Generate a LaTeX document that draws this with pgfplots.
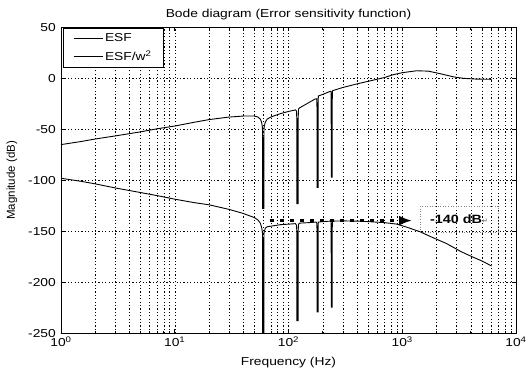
\documentclass[border=0pt]{standalone}
\usepackage{fontspec}
\setmainfont{Liberation Sans}[FakeStretch=1.2]
\newfontfamily\ylfont{Liberation Sans}
\newfontfamily\symfont{DejaVu Sans}
\usepackage{pgfplots}
\pgfplotsset{compat=1.18}
\usetikzlibrary{arrows.meta}
\begin{document}
\begin{tikzpicture}
\begin{axis}[
  at={(0,0)}, anchor=south west,
  scale only axis, width=455pt, height=306pt,
  xmode=log, xmin=1, xmax=10000, ymin=-250, ymax=50,
  ytick={-250,-200,-150,-100,-50,0,50},
  yticklabels={-250,-200,-150,-100,-50,0,50},
  xtick={1,10,100,1000,10000},
  xticklabels={10\textsuperscript{0},10\textsuperscript{1},10\textsuperscript{2},10\textsuperscript{3},10\textsuperscript{4}},
  minor xtick={2,3,4,5,6,7,8,9,20,30,40,50,60,70,80,90,200,300,400,500,600,700,800,900,2000,3000,4000,5000,6000,7000,8000,9000},
  xmajorgrids, xminorgrids, ymajorgrids,
  major grid style={black, line width=0.4pt, dash pattern=on 1.2pt off 2.2pt},
  minor grid style={black, line width=0.4pt, dash pattern=on 1.2pt off 2.2pt},
  tick align=inside, major tick length=4pt, minor tick length=2.5pt,
  axis line style={line width=0.6pt},
  every tick/.style={black, line width=0.5pt},
  tick label style={font=\fontsize{11.5}{13}\selectfont},
  yticklabel style={inner sep=0pt, xshift=-5pt},
  xticklabel style={inner sep=0pt, yshift=-3pt},
  xlabel={Frequency (Hz)},
  ylabel={{\ylfont Magnitude (dB)}},
  title={Bode diagram (Error sensitivity function)},
  every axis x label/.style={at={(axis description cs:0.5,0)}, yshift=-29.5pt, anchor=center, font=\fontsize{11.5}{13}\selectfont},
  every axis y label/.style={at={(axis description cs:0,0.5)}, xshift=-49pt, rotate=90, anchor=center, font=\fontsize{11.5}{13}\selectfont},
  every axis title/.style={at={(axis description cs:0.5,1)}, yshift=12.8pt, anchor=center, font=\fontsize{11.5}{13}\selectfont},
  legend cell align=left,
  legend image code/.code={\draw[#1] (0pt,0pt) -- (29pt,0pt);},
  legend style={at={(axis description cs:0.004,0.998)}, anchor=north west, draw=black, line width=0.6pt, fill=white,
    font=\fontsize{11.5}{13}\selectfont, inner xsep=10pt, inner ysep=3pt, row sep=4pt},
]
\addplot[black, line width=0.9pt] coordinates {
(1,-65) (1.5,-62) (2,-59.5) (3,-56.5) (5,-52.5) (7,-49.5) (10,-46.8) (15,-43) (20,-40.5) (30,-38) (40,-37) (50,-37) (54,-38) (56.5,-40) (58,-43) (59,-48) (59.2,-60) (59.3,-127.5) (60.7,-127.5) (60.8,-60) (61,-48) (62.5,-43) (65,-40) (70,-38) (76,-36.5) (85,-34.6) (100,-32.5) (115,-31) (117.5,-32) (118.4,-40) (118.6,-123) (121.4,-123) (121.6,-40) (122.5,-30) (125,-29) (150,-24) (170,-20.5) (177.5,-20) (177.9,-28) (178,-107) (182,-107) (182.1,-28) (183,-17.3) (200,-15.8) (230,-13) (236.5,-12.8) (237.3,-20) (237.5,-97) (242.5,-97) (242.7,-20) (243.5,-12.2) (300,-9) (400,-5.5) (500,-3) (700,0.8) (830,3.5) (1000,5.5) (1340,7.4) (1700,7) (2140,4.6) (2800,1.5) (3430,0) (4500,-0.8) (6100,-1)
};
\addplot[black, line width=0.9pt] coordinates {
(1,-98) (1.5,-101) (2,-103.5) (3,-107.5) (5,-112) (7,-115) (10,-118.5) (15,-122) (20,-124) (30,-128.5) (40,-132.5) (50,-136.5) (54,-139) (56.5,-142) (58,-146) (59,-151) (59.2,-158) (59.3,-250) (60.7,-250) (60.8,-158) (61,-151) (62.5,-147) (65,-145.5) (70,-145) (85,-143.5) (100,-143) (115,-142.5) (117.5,-144) (118.4,-150) (118.6,-237.5) (121.4,-237.5) (121.6,-150) (122.5,-143) (125,-142) (150,-141.5) (175,-141) (177.5,-142) (177.9,-147) (178,-229) (182,-229) (182.1,-147) (183,-141) (200,-140.5) (235,-140) (236.5,-141) (237.3,-146) (237.5,-224.5) (242.5,-224.5) (242.7,-146) (243.5,-140) (300,-139.8) (400,-140) (500,-140.5) (700,-141.5) (900,-143) (1100,-146) (1430,-150.4) (1800,-155.5) (2450,-162) (3300,-170) (4220,-175.5) (5000,-179) (6100,-184)
};
\legend{ESF, ESF/w\textsuperscript{2}}
\addplot[black, line width=3.6pt, dash pattern=on 3.6pt off 6.4pt, -{Latex[length=13pt,width=10pt]}, forget plot] coordinates {(69,-139.5) (1220,-139.5)};
\node[draw=gray, dotted, line width=0.6pt, minimum width=78pt, minimum height=26pt, inner sep=0pt, font=\fontsize{12}{14}\selectfont\bfseries] at (axis cs:3155,-137.9) {-140 dB{\symfont\fontsize{7}{8}\selectfont\color{gray}↵}};
\end{axis}
\pgfresetboundingbox
\path[use as bounding box] (-61pt,-38.7pt) rectangle (466pt,333.3pt);
\end{tikzpicture}
\end{document}
